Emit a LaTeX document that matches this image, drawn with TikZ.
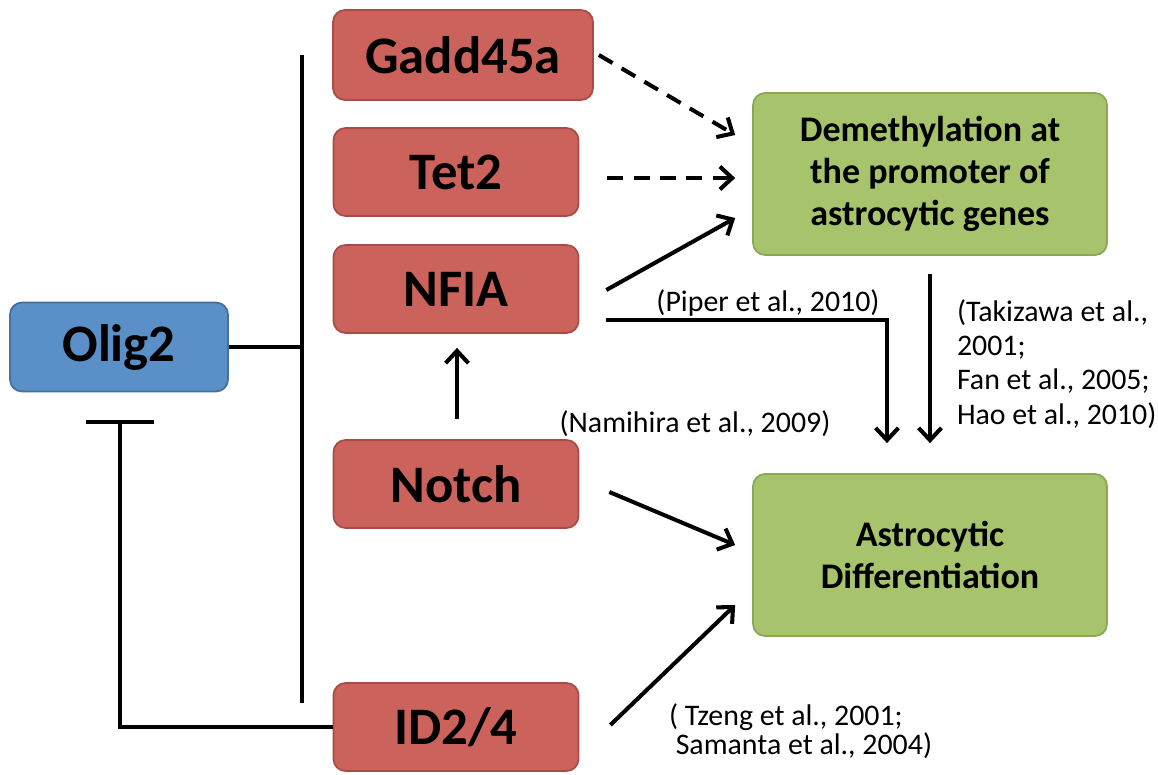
\documentclass[tikz,border=0pt]{standalone}
\usepackage{fontspec}
\setmainfont{Carlito}
\usepackage{tikz}
\usetikzlibrary{arrows.meta,calc}
\definecolor{factorfill}{HTML}{CB625C}
\definecolor{factordraw}{HTML}{A84C47}
\definecolor{oligfill}{HTML}{5B8FC7}
\definecolor{oligdraw}{HTML}{41719C}
\definecolor{effectfill}{HTML}{A7C46C}
\definecolor{effectdraw}{HTML}{8AA853}
\def\boxfont{\fontsize{30}{34}\selectfont\bfseries}

\begin{document}
\begin{tikzpicture}[x=0.02cm,y=-0.02cm,line width=2.3pt,
    >={Straight Barb[length=7pt,width=13pt]}]
    \tikzstyle{factor}=[rectangle,rounded corners=0.24cm,draw=factordraw,line width=1pt,
        fill=factorfill,minimum width=4.9cm,minimum height=1.76cm,inner sep=0pt,font=\boxfont]
    \tikzstyle{olig}=[factor,fill=oligfill,draw=oligdraw,minimum width=4.36cm,minimum height=1.78cm]
    \tikzstyle{effect}=[factor,fill=effectfill,draw=effectdraw,minimum width=7.08cm,
        minimum height=3.24cm,align=center,
        font=\fontsize{20.5}{24}\selectfont\bfseries]
    \tikzstyle{cite}=[inner sep=0pt,font=\fontsize{17}{19.5}\selectfont]
    \tikzstyle{dash arrow}=[->,dash pattern=on 9pt off 6pt]

    \useasboundingbox (0,0) rectangle (1158,774);

    % Draw the factor nodes
    \node[factor,minimum width=5.2cm,minimum height=1.8cm] (gadd) at (463,55) {Gadd45a};
    \foreach \name / \txt / \y in {tet/Tet2/172,nfia/NFIA/289,notch/Notch/484,id/ID2\slash 4/727}
        \node[factor] (\name) at (456,\y) {\txt};

    % Draw Olig2 and the two outcomes
    \node[olig] (olig) at (119,347) {Olig2};
    \node[effect] (demeth) at (930,174) {Demethylation at\\the promoter of\\astrocytic genes};
    \node[effect] (astro) at (930,555) {Astrocytic\\Differentiation};

    % Olig2 acts on all the factors
    \coordinate (bartop) at (302,55);
    \coordinate (barbot) at (302,703);
    \draw (bartop) -- (barbot);
    \draw (olig.east) -- (olig.east -| bartop);

    % ID2/4 blocks Olig2
    \coordinate (block) at (120,420);
    \draw[-{Bar[width=1.36cm]}] (id.west) -| (block);

    % Connect the factors with demethylation
    \draw[dash arrow] ($(gadd.east)+(5,0)$) -- ($(demeth.west)+(-17,-39)$);
    \draw[dash arrow] ($(tet.east)+(28,6)$) -- ($(demeth.west)+(-17,4)$);
    \draw[->] ($(nfia.east)+(27,1)$) -- ($(demeth.west)+(-17,44)$);

    % Connect the factors with differentiation
    \draw[->] ($(nfia.east)+(27,31)$) -| ($(astro.north)+(-43,-30)$);
    \draw[->] ($(demeth.south)+(0,18)$) -- ($(astro.north)+(0,-30)$);
    \draw[->] ($(notch.north)+(1,-20)$) -- ($(nfia.south)+(1,14)$);
    \draw[->] ($(notch.east)+(30,8)$) -- ($(astro.west)+(-17,-10)$);
    \draw[->] ($(id.east)+(31,-2)$) -- ($(astro.west)+(-17,50)$);

    % Annotate the links
    \node[cite] (piper) at (768,303) {(Piper et al., 2010)};
    \node[cite] (namihira) at (695,424) {(Namihira et al., 2009)};
    \node[cite,anchor=west,align=left] (takizawa) at (955,364)
        {(Takizawa et al.,\\2001;\\Fan et al., 2005;\\Hao et al., 2010)};
    \node[cite,anchor=west,align=left,font=\fontsize{17}{16.5}\selectfont] (tzeng) at (667,731)
        {( Tzeng et al., 2001;\\\ Samanta et al., 2004)};
\end{tikzpicture}
\end{document}
